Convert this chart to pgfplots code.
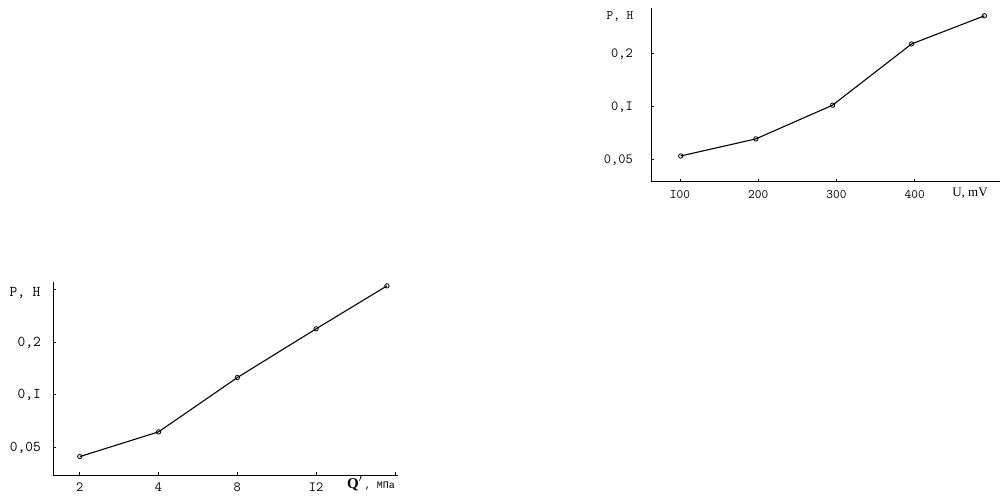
\documentclass[border=0pt]{standalone}
\usepackage{fontspec}
\usepackage{pgfplots}
\pgfplotsset{compat=1.18}
\setmainfont{Liberation Serif}
\newfontfamily\cyr{Liberation Mono}

\pgfplotsset{
  curve/.style={black, line width=1.1pt, mark=o, mark size=2.2pt,
    mark options={fill=white, line width=0.8pt}},
}

\begin{document}
\begin{tikzpicture}[x=1pt,y=1pt]
\useasboundingbox (0,0) rectangle (1008,495);

% P against U
\begin{axis}[
  ymode=log, yminorticks=false,
  scale only axis, anchor=south west, clip=false,
  axis x line=bottom, axis y line=left,
  axis line style={-, line width=1pt},
  tick align=inside, major tick length=3pt,
  tick style={black, line width=0.7pt},
  at={(651pt,313pt)}, width=349pt, height=174pt,
  xmin=63, xmax=509, ymin=0.037, ymax=0.36,
  xtick={100,200,300,400}, xticklabels={I00,200,300,400},
  ytick={0.05,0.1,0.2}, yticklabels={{0,05},{0,I},{0,2}},
  xticklabel style={font=\ttfamily\fontsize{13}{13}\selectfont, anchor=base, inner sep=0pt, yshift=-17pt},
  yticklabel style={font=\ttfamily\fontsize{14}{14}\selectfont, anchor=base east, inner sep=0pt, xshift=-18pt, yshift=-4.5pt},
]
\addplot[curve] coordinates {(101,0.052) (197,0.065) (295,0.101) (396,0.225) (489,0.325)};
\end{axis}

% P against Q'
\begin{axis}[
  ymode=log, yminorticks=false,
  scale only axis, anchor=south west, clip=false,
  axis x line=bottom, axis y line=left,
  axis line style={-, line width=1pt},
  tick align=inside, major tick length=3pt,
  tick style={black, line width=0.7pt},
  at={(53pt,20pt)}, width=345pt, height=193pt,
  xmin=-0.34, xmax=4.04, ymin=0.0345, ymax=0.442,
  xtick={0,1,2,3,4}, xticklabels={2,4,8,I2,{}},
  ytick={0.05,0.1,0.2,0.4}, yticklabels={{0,05},{0,I},{0,2},{}},
  xticklabel style={font=\ttfamily\fontsize{14}{14}\selectfont, anchor=base, inner sep=0pt, yshift=-16pt},
  yticklabel style={font=\ttfamily\fontsize{15}{15}\selectfont, anchor=base east, inner sep=0pt, xshift=-12pt, yshift=-4.5pt},
]
\addplot[curve] coordinates {(0,0.044) (1,0.061) (2,0.125) (3,0.238) (3.9,0.42)};
\end{axis}

% axis titles
\node[font=\ttfamily\fontsize{13}{13}\selectfont] at (620,479) {P, H};
\node[font=\fontsize{13}{13}\selectfont] at (970,302) {U, mV};
\node[font=\ttfamily\fontsize{15}{15}\selectfont] at (25,202) {P, H};
\node[anchor=base west, inner sep=0pt] at (347,7) {\fontsize{15}{15}\selectfont\textbf{Q}$^{\prime}$\,{\cyr\fontsize{10}{10}\selectfont, МПа}};
\end{tikzpicture}
\end{document}
